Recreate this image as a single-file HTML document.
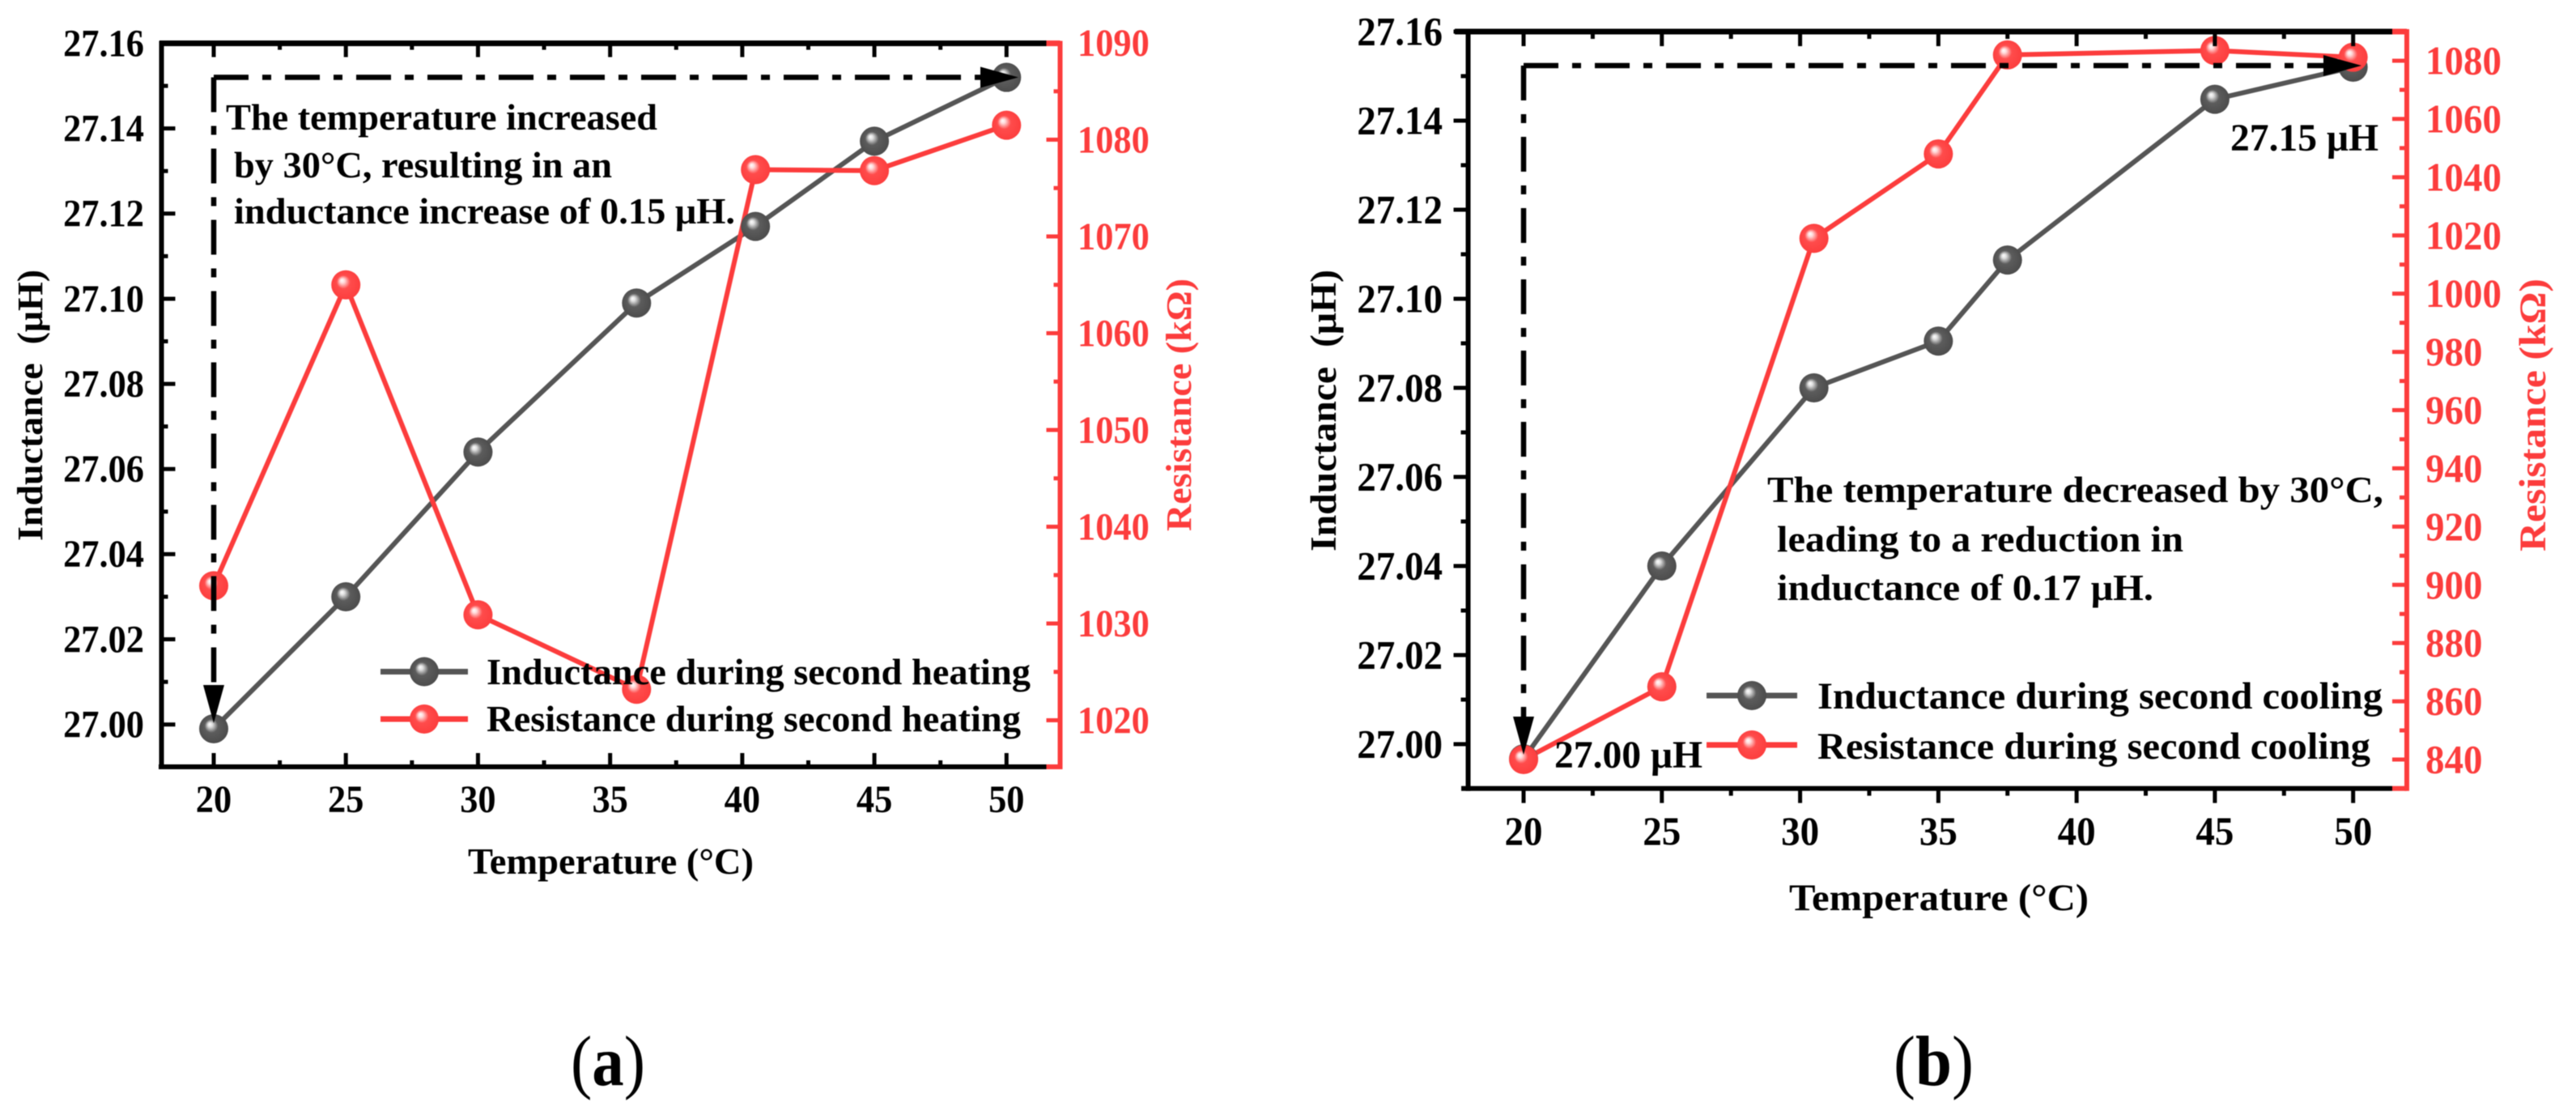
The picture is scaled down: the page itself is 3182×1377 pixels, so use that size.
<!DOCTYPE html>
<html lang="en">
<head>
<meta charset="utf-8">
<title>Inductance and resistance during second heating and cooling</title>
<style>
html,body{margin:0;padding:0;background:#fff;width:3182px;height:1377px;overflow:hidden}
svg{display:block;filter:blur(0.6px)}
text{font-family:"Liberation Serif","DejaVu Serif",serif;font-weight:700;white-space:pre}
</style>
</head>
<body>
<svg id="figure" xmlns="http://www.w3.org/2000/svg" width="3182" height="1377" viewBox="0 0 3182 1377">
  <defs>
    <radialGradient id="sphere-grey" cx="0.5" cy="0.5" r="0.55" fx="0.36" fy="0.34">
      <stop offset="0" stop-color="#ffffff"/>
      <stop offset="0.14" stop-color="#e0e0e0"/>
      <stop offset="0.42" stop-color="#5c5c5c"/>
      <stop offset="1" stop-color="#4a4a4a"/>
    </radialGradient>
    <radialGradient id="sphere-red" cx="0.5" cy="0.5" r="0.55" fx="0.36" fy="0.34">
      <stop offset="0" stop-color="#ffffff"/>
      <stop offset="0.14" stop-color="#ffdcdc"/>
      <stop offset="0.42" stop-color="#ff4c4c"/>
      <stop offset="1" stop-color="#fc3c3c"/>
    </radialGradient>
  </defs>
  <g id="panel-a"></g>
  <g id="panel-b"></g>

  <g font-size="45" fill="#000">
    <text x="279" y="160" textLength="533" lengthAdjust="spacingAndGlyphs">The temperature increased</text>
    <text x="289" y="219" textLength="467" lengthAdjust="spacingAndGlyphs">by 30°C, resulting in an</text>
    <text x="289" y="276" textLength="619" lengthAdjust="spacingAndGlyphs">inductance increase of 0.15 μH.</text>
  </g>
  <g font-size="46" fill="#000">
    <text x="2183" y="620" textLength="761" lengthAdjust="spacingAndGlyphs">The temperature decreased by 30°C,</text>
    <text x="2195" y="681" textLength="502" lengthAdjust="spacingAndGlyphs">leading to a reduction in</text>
    <text x="2195" y="741" textLength="465" lengthAdjust="spacingAndGlyphs">inductance of 0.17 μH.</text>
    <text x="2755" y="186" font-size="48" textLength="183" lengthAdjust="spacingAndGlyphs">27.15 μH</text>
    <text x="1920" y="948" font-size="48" textLength="183" lengthAdjust="spacingAndGlyphs">27.00 μH</text>
  </g>

  <g font-size="46" fill="#000">
    <text x="601" y="845" textLength="672" lengthAdjust="spacingAndGlyphs">Inductance during second heating</text>
    <text x="601" y="903" textLength="660" lengthAdjust="spacingAndGlyphs">Resistance during second heating</text>
  </g>
  <g font-size="47" fill="#000">
    <text x="2245" y="875" textLength="698" lengthAdjust="spacingAndGlyphs">Inductance during second cooling</text>
    <text x="2245" y="937" textLength="683" lengthAdjust="spacingAndGlyphs">Resistance during second cooling</text>
  </g>

  <text x="578" y="1079" font-size="45" textLength="353" lengthAdjust="spacingAndGlyphs">Temperature (°C)</text>
  <text x="2210" y="1124" font-size="47" textLength="370" lengthAdjust="spacingAndGlyphs">Temperature (°C)</text>
  <text transform="translate(52 668) rotate(-90)" font-size="44" textLength="335" lengthAdjust="spacingAndGlyphs">Inductance  (μH)</text>
  <text transform="translate(1471 656) rotate(-90)" font-size="44" fill="#fc3c3c" textLength="312" lengthAdjust="spacingAndGlyphs">Resistance (kΩ)</text>
  <text transform="translate(1650 681) rotate(-90)" font-size="45" textLength="348" lengthAdjust="spacingAndGlyphs">Inductance  (μH)</text>
  <text transform="translate(3144 681) rotate(-90)" font-size="47" fill="#fc3c3c" textLength="337" lengthAdjust="spacingAndGlyphs">Resistance (kΩ)</text>

  <text x="705" y="1340" font-size="88" textLength="92" lengthAdjust="spacingAndGlyphs"><tspan font-weight="400">(</tspan>a<tspan font-weight="400">)</tspan></text>
  <text x="2339" y="1340" font-size="88" textLength="99" lengthAdjust="spacingAndGlyphs"><tspan font-weight="400">(</tspan>b<tspan font-weight="400">)</tspan></text>
</svg>
<script>
// ---- Chart data ----
const xTickLabels = ['20', '25', '30', '35', '40', '45', '50'];
const inductanceTickLabels = ['27.00', '27.02', '27.04', '27.06', '27.08', '27.10', '27.12', '27.14', '27.16'];

const heatingTemperature = [20, 25, 30, 36, 40.5, 45, 50];
const heatingInductance = [26.999, 27.030, 27.064, 27.099, 27.117, 27.137, 27.152];
const heatingResistance = [1033.9, 1065, 1030.9, 1023.2, 1076.9, 1076.8, 1081.5];
const heatingResistanceTickLabels = ['1020', '1030', '1040', '1050', '1060', '1070', '1080', '1090'];

const coolingTemperature = [20, 25, 30.5, 35, 37.5, 45, 50];
const coolingInductance = [26.9967, 27.040, 27.080, 27.0905, 27.1087, 27.1448, 27.152];
const coolingResistance = [840, 865, 1019, 1048, 1082, 1083.5, 1081.2];
const coolingResistanceTickLabels = ['840', '860', '880', '900', '920', '940', '960', '980', '1000', '1020', '1040', '1060', '1080'];

// ---- Layout ----
const BLACK = '#000';
const RED = '#fc3c3c';
const GREY = '#555';
const NS = 'http://www.w3.org/2000/svg';

function make(tag, attrs, parent) {
  const node = document.createElementNS(NS, tag);
  for (const k in attrs) node.setAttribute(k, attrs[k]);
  parent.appendChild(node);
  return node;
}

function linear(d0, d1, r0, r1) {
  return v => r0 + (v - d0) * (r1 - r0) / (d1 - d0);
}

function drawPanel(root, p) {
  const X = linear(20, 50, p.x20, p.x50);
  const YL = linear(27, 27.16, p.y2700, p.y2716);
  const YR = linear(p.rRef0, p.rRef1, p.rY0, p.rY1);

  // series lines
  const lines = make('g', {}, root);
  
  
  const ptsL = p.temps.map((t, i) => X(t) + ',' + YL(p.inductance[i])).join(' ');
  const ptsR = p.temps.map((t, i) => X(t) + ',' + YR(p.resistance[i])).join(' ');
  const lineL = make('polyline', {points: ptsL, fill: 'none', stroke: GREY, 'stroke-width': 6}, lines);
  
  
  const lineR = make('polyline', {points: ptsR, fill: 'none', stroke: RED, 'stroke-width': 6}, lines);
  
  

  // markers
  p.temps.forEach((t, i) => {
    const c = make('circle', {cx: X(t), cy: YL(p.inductance[i]), r: 18, fill: 'url(#sphere-grey)'}, lines);
    
    
  });
  p.temps.forEach((t, i) => {
    const c = make('circle', {cx: X(t), cy: YR(p.resistance[i]), r: 18, fill: 'url(#sphere-red)'}, lines);
    
    
  });

  // legend swatches
  const legend = make('g', {}, root);
  
  
  [[p.legY1, GREY, 'url(#sphere-grey)'], [p.legY2, RED, 'url(#sphere-red)']].forEach(s => {
    make('line', {x1: p.legX0, x2: p.legX1, y1: s[0], y2: s[0], stroke: s[1], 'stroke-width': 7}, legend);
    make('circle', {cx: (p.legX0 + p.legX1) / 2, cy: s[0], r: 18, fill: s[2]}, legend);
  });

  // guide arrows
  const arrows = make('g', {}, root);
  
  
  const hy = YL(p.inductance[p.inductance.length - 1]) + p.hOff;
  const vx = X(20);
  const dash = {fill: 'none', stroke: BLACK, 'stroke-width': 6.5, 'stroke-dasharray': '43 17 11 17'};
  make('line', Object.assign({x1: vx, y1: hy, x2: p.hTip - 40, y2: hy}, dash), arrows);
  make('line', Object.assign({x1: vx, y1: hy, x2: vx, y2: p.vTip - 40}, dash), arrows);
  make('polygon', {points: (p.hTip - 47) + ',' + (hy - 13) + ' ' + p.hTip + ',' + hy + ' ' + (p.hTip - 47) + ',' + (hy + 13), fill: BLACK}, arrows);
  make('polygon', {points: (vx - 13) + ',' + (p.vTip - 47) + ' ' + vx + ',' + p.vTip + ' ' + (vx + 13) + ',' + (p.vTip - 47), fill: BLACK}, arrows);

  // axes
  const axes = make('g', {}, root);
  
  
  const seg = (x1, y1, x2, y2, col, w) => make('line', {x1, y1, x2, y2, stroke: col, 'stroke-width': w}, axes);
  const stretch = {lengthAdjust: 'spacingAndGlyphs'};

  // x axes and ticks
  const xVals = xTickLabels.map(Number);
  xVals.forEach((v, i) => {
    const x = X(v);
    seg(x, p.top, x, p.top + p.maj, BLACK, 5);
    seg(x, p.bottom, x, p.bottom + p.xDir * p.maj, BLACK, 5);
    if (i < xVals.length - 1) {
      const m = X((v + xVals[i + 1]) / 2);
      seg(m, p.top, m, p.top + p.min, BLACK, 5);
      seg(m, p.bottom, m, p.bottom + p.xDir * p.min, BLACK, 5);
    }
    const t = make('text', Object.assign({x: x, y: p.xLabelY, 'text-anchor': 'middle', 'font-size': p.fs, textLength: p.digitW * xTickLabels[i].length}, stretch), axes);
    
    
    t.textContent = xTickLabels[i];
  });

  // left ticks
  const lVals = inductanceTickLabels.map(Number);
  lVals.forEach((v, i) => {
    const y = YL(v);
    seg(p.left, y, p.left + p.lDir * p.maj, y, BLACK, 5);
    if (i < lVals.length - 1) {
      const m = YL((v + lVals[i + 1]) / 2);
      seg(p.left, m, p.left + p.lDir * p.min, m, BLACK, 5);
    }
    const t = make('text', Object.assign({x: p.lLabelX, y: y + p.fs * 0.33, 'text-anchor': 'end', 'font-size': p.fs, textLength: p.digitW * 4.5}, stretch), axes);
    
    
    t.textContent = inductanceTickLabels[i];
  });

  // right ticks
  const rVals = p.rLabels.map(Number);
  rVals.forEach((v, i) => {
    const y = YR(v);
    seg(p.right, y, p.right - p.maj, y, RED, 5);
    if (i < rVals.length - 1) {
      const m = YR((v + rVals[i + 1]) / 2);
      seg(p.right, m, p.right - p.min, m, RED, 5);
    }
    const t = make('text', Object.assign({x: p.rLabelX, y: y + p.fs * 0.33, 'text-anchor': 'start', 'font-size': p.fs, fill: RED, textLength: p.digitW * p.rLabels[i].length}, stretch), axes);
    
    
    t.textContent = p.rLabels[i];
  });

  // spines
  seg(p.left, p.top - 3, p.left, p.bottom + 3, BLACK, 6);
  seg(p.topStart, p.top, p.right - p.maj, p.top, BLACK, 7);
  seg(p.right - p.maj, p.top, p.right, p.top, RED, 7);
  seg(p.bottomStart, p.bottom, p.right - p.maj, p.bottom, BLACK, 6);
  seg(p.right - p.maj, p.bottom, p.right, p.bottom, RED, 6);
  seg(p.right, p.top - 3, p.right, p.bottom + 3, RED, 6);
}

drawPanel(document.getElementById('panel-a'), {
  temps: heatingTemperature, inductance: heatingInductance, resistance: heatingResistance, rLabels: heatingResistanceTickLabels,
  x20: 264, x50: 1243.3, y2700: 894.7, y2716: 53.5,
  rRef0: 1090, rRef1: 1020, rY0: 53, rY1: 889.5,
  left: 199.5, right: 1309.5, top: 53.5, bottom: 947,
  topStart: 197, bottomStart: 196, maj: 17, min: 8, xDir: -1, lDir: 1,
  fs: 48, digitW: 22.2, xLabelY: 1003, lLabelX: 178, rLabelX: 1331,
  legX0: 470, legX1: 578, legY1: 829.5, legY2: 888,
  hOff: 0, hTip: 1258, vTip: 893
});

drawPanel(document.getElementById('panel-b'), {
  temps: coolingTemperature, inductance: coolingInductance, resistance: coolingResistance, rLabels: coolingResistanceTickLabels,
  x20: 1882, x50: 2906.7, y2700: 919, y2716: 39,
  rRef0: 1080, rRef1: 840, rY0: 75, rY1: 938,
  left: 1813.5, right: 2973, top: 39, bottom: 973.7,
  topStart: 1797, bottomStart: 1805, maj: 18, min: 9, xDir: 1, lDir: -1,
  fs: 50, digitW: 23.5, xLabelY: 1043, lLabelX: 1782, rLabelX: 2996,
  legX0: 2108, legX1: 2220, legY1: 859, legY2: 920,
  hOff: -2, hTip: 2917, vTip: 932
});
</script>
</body>
</html>
